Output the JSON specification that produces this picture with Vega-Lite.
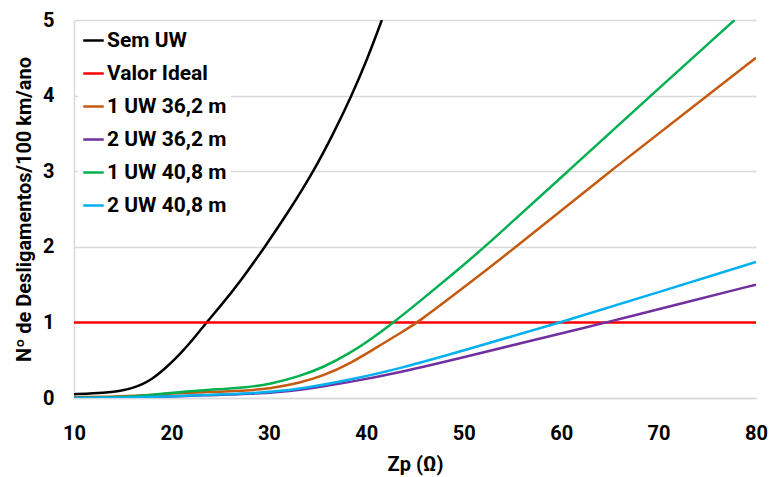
{
  "$schema": "https://vega.github.io/schema/vega-lite/v6.json",
  "autosize": "none",
  "width": 682,
  "height": 378,
  "padding": {"left": 74, "top": 20, "right": 14, "bottom": 79},
  "background": "white",
  "config": {
    "font": "Roboto",
    "view": {"stroke": null}
  },
  "data": {
    "values": [
      {"s": "Sem UW", "x": 10, "y": 0.05},
      {"s": "Sem UW", "x": 12, "y": 0.06},
      {"s": "Sem UW", "x": 14, "y": 0.08},
      {"s": "Sem UW", "x": 15, "y": 0.1},
      {"s": "Sem UW", "x": 16, "y": 0.13},
      {"s": "Sem UW", "x": 17, "y": 0.18},
      {"s": "Sem UW", "x": 18, "y": 0.25},
      {"s": "Sem UW", "x": 19, "y": 0.35},
      {"s": "Sem UW", "x": 20, "y": 0.47},
      {"s": "Sem UW", "x": 21, "y": 0.6},
      {"s": "Sem UW", "x": 22, "y": 0.74},
      {"s": "Sem UW", "x": 23.6, "y": 1.0},
      {"s": "Sem UW", "x": 25, "y": 1.21},
      {"s": "Sem UW", "x": 27, "y": 1.53},
      {"s": "Sem UW", "x": 29.6, "y": 2.0},
      {"s": "Sem UW", "x": 32, "y": 2.46},
      {"s": "Sem UW", "x": 34.6, "y": 3.0},
      {"s": "Sem UW", "x": 36.6, "y": 3.49},
      {"s": "Sem UW", "x": 38.5, "y": 4.0},
      {"s": "Sem UW", "x": 40.1, "y": 4.48},
      {"s": "Sem UW", "x": 41.6, "y": 5.0},
      {"s": "Valor Ideal", "x": 10, "y": 1},
      {"s": "Valor Ideal", "x": 80, "y": 1},
      {"s": "1 UW 36,2 m", "x": 10, "y": 0.01},
      {"s": "1 UW 36,2 m", "x": 15, "y": 0.02},
      {"s": "1 UW 36,2 m", "x": 18, "y": 0.04},
      {"s": "1 UW 36,2 m", "x": 20, "y": 0.06},
      {"s": "1 UW 36,2 m", "x": 22.9, "y": 0.075},
      {"s": "1 UW 36,2 m", "x": 28.1, "y": 0.1},
      {"s": "1 UW 36,2 m", "x": 30, "y": 0.125},
      {"s": "1 UW 36,2 m", "x": 33.2, "y": 0.2},
      {"s": "1 UW 36,2 m", "x": 35.5, "y": 0.29},
      {"s": "1 UW 36,2 m", "x": 38.3, "y": 0.45},
      {"s": "1 UW 36,2 m", "x": 41.7, "y": 0.72},
      {"s": "1 UW 36,2 m", "x": 43.5, "y": 0.86},
      {"s": "1 UW 36,2 m", "x": 45.3, "y": 1.0},
      {"s": "1 UW 36,2 m", "x": 50, "y": 1.46},
      {"s": "1 UW 36,2 m", "x": 55.4, "y": 2.0},
      {"s": "1 UW 36,2 m", "x": 65, "y": 3.0},
      {"s": "1 UW 36,2 m", "x": 75, "y": 4.0},
      {"s": "1 UW 36,2 m", "x": 80, "y": 4.5},
      {"s": "2 UW 36,2 m", "x": 10, "y": 0.0},
      {"s": "2 UW 36,2 m", "x": 15, "y": 0.005},
      {"s": "2 UW 36,2 m", "x": 20, "y": 0.02},
      {"s": "2 UW 36,2 m", "x": 22.9, "y": 0.035},
      {"s": "2 UW 36,2 m", "x": 28.1, "y": 0.05},
      {"s": "2 UW 36,2 m", "x": 33.2, "y": 0.1},
      {"s": "2 UW 36,2 m", "x": 38.3, "y": 0.21},
      {"s": "2 UW 36,2 m", "x": 43.5, "y": 0.34},
      {"s": "2 UW 36,2 m", "x": 50, "y": 0.54},
      {"s": "2 UW 36,2 m", "x": 57, "y": 0.76},
      {"s": "2 UW 36,2 m", "x": 64.7, "y": 1.0},
      {"s": "2 UW 36,2 m", "x": 72, "y": 1.24},
      {"s": "2 UW 36,2 m", "x": 80, "y": 1.5},
      {"s": "1 UW 40,8 m", "x": 10, "y": 0.0},
      {"s": "1 UW 40,8 m", "x": 15, "y": 0.01},
      {"s": "1 UW 40,8 m", "x": 18, "y": 0.04},
      {"s": "1 UW 40,8 m", "x": 20, "y": 0.07},
      {"s": "1 UW 40,8 m", "x": 22.9, "y": 0.1},
      {"s": "1 UW 40,8 m", "x": 28.1, "y": 0.145},
      {"s": "1 UW 40,8 m", "x": 30, "y": 0.18},
      {"s": "1 UW 40,8 m", "x": 33.2, "y": 0.29},
      {"s": "1 UW 40,8 m", "x": 35.5, "y": 0.4},
      {"s": "1 UW 40,8 m", "x": 38.3, "y": 0.59},
      {"s": "1 UW 40,8 m", "x": 40.5, "y": 0.78},
      {"s": "1 UW 40,8 m", "x": 42.8, "y": 1.0},
      {"s": "1 UW 40,8 m", "x": 45.5, "y": 1.28},
      {"s": "1 UW 40,8 m", "x": 48.8, "y": 1.63},
      {"s": "1 UW 40,8 m", "x": 52.2, "y": 2.0},
      {"s": "1 UW 40,8 m", "x": 60.7, "y": 3.0},
      {"s": "1 UW 40,8 m", "x": 69.2, "y": 4.0},
      {"s": "1 UW 40,8 m", "x": 77.8, "y": 5.0},
      {"s": "2 UW 40,8 m", "x": 10, "y": 0.0},
      {"s": "2 UW 40,8 m", "x": 15, "y": 0.005},
      {"s": "2 UW 40,8 m", "x": 20, "y": 0.02},
      {"s": "2 UW 40,8 m", "x": 22.9, "y": 0.04},
      {"s": "2 UW 40,8 m", "x": 28.1, "y": 0.057},
      {"s": "2 UW 40,8 m", "x": 33.2, "y": 0.115},
      {"s": "2 UW 40,8 m", "x": 38.3, "y": 0.24},
      {"s": "2 UW 40,8 m", "x": 43.5, "y": 0.39},
      {"s": "2 UW 40,8 m", "x": 50, "y": 0.63},
      {"s": "2 UW 40,8 m", "x": 60, "y": 1.0},
      {"s": "2 UW 40,8 m", "x": 70, "y": 1.4},
      {"s": "2 UW 40,8 m", "x": 80, "y": 1.8}
    ]
  },
  "mark": {"type": "line", "interpolate": "basis", "strokeWidth": 2.5, "clip": true},
  "encoding": {
    "x": {
      "field": "x", "type": "quantitative",
      "scale": {"domain": [10, 80], "nice": false},
      "axis": {
        "title": "Zp (Ω)", "values": [10, 20, 30, 40, 50, 60, 70, 80],
        "grid": false, "ticks": false, "domainColor": "#d9d9d9", "domainWidth": 1.5,
        "labelFlush": false,
        "labelFontSize": 20, "labelFontWeight": "bold", "labelColor": "black", "labelPadding": 25,
        "titleFontSize": 20, "titleFontWeight": "bold", "titleColor": "black", "titlePadding": 11
      }
    },
    "y": {
      "field": "y", "type": "quantitative",
      "scale": {"domain": [0, 5], "nice": false},
      "axis": {
        "title": "Nº de Desligamentos/100 km/ano", "values": [0, 1, 2, 3, 4, 5],
        "grid": true, "gridColor": "#d9d9d9", "gridWidth": 1.5,
        "ticks": false, "domainColor": "#d9d9d9", "domainWidth": 1.5,
        "labelFlush": false,
        "labelFontSize": 20, "labelFontWeight": "bold", "labelColor": "black", "labelPadding": 20,
        "titleFontSize": 20, "titleFontWeight": "bold", "titleColor": "black", "titlePadding": 8
      }
    },
    "color": {
      "field": "s", "type": "nominal",
      "scale": {
        "domain": ["Sem UW", "Valor Ideal", "1 UW 36,2 m", "2 UW 36,2 m", "1 UW 40,8 m", "2 UW 40,8 m"],
        "range": ["#000000", "#ff0000", "#c55a11", "#7030a0", "#00b050", "#00b0f0"]
      },
      "legend": {
        "title": null, "orient": "none", "legendX": 4, "legendY": 5,
        "fillColor": "white", "padding": 4,
        "symbolType": "stroke", "symbolSize": 420, "symbolStrokeWidth": 2.5,
        "labelFontSize": 21, "labelFontWeight": "bold", "labelColor": "black",
        "labelOffset": 2, "rowPadding": 11, "labelLimit": 300
      }
    }
  }
}
